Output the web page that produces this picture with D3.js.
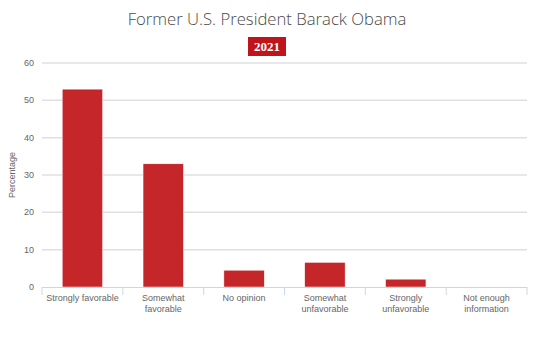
<!DOCTYPE html>
<html><head><meta charset="utf-8">
<script src="https://cdn.jsdelivr.net/npm/d3@7"></script>
<style>body{margin:0;background:#fff;}svg{display:block;font-family:"Liberation Sans",Arial,sans-serif;}</style>
</head><body>
<svg id="c" width="558" height="349"></svg>
<script>
const categories = [["Strongly favorable"],["Somewhat","favorable"],["No opinion"],["Somewhat","unfavorable"],["Strongly","unfavorable"],["Not enough","information"]];
const values = [53, 33, 4.5, 6.6, 2.1, 0];
const yTicks = [0,10,20,30,40,50,60];
const title = "Former U.S. President Barack Obama";
const badge = "2021";

const svg = d3.select("#c");
const m = {l:42, r:31, t:63, b:62};
const W = 558, H = 349;
const x = d3.scaleBand().domain(d3.range(categories.length)).range([m.l, W-m.r]).paddingInner(0.5).paddingOuter(0.25);
const y = d3.scaleLinear().domain([0,60]).range([H-m.b, m.t]);

svg.append("text").attr("x",267).attr("y",25).attr("text-anchor","middle")
  .attr("font-family","'Open Sans',sans-serif").attr("font-weight",300).attr("font-size",16.7).attr("fill","#4a4a4a").text(title);
svg.append("rect").attr("x",248).attr("y",37).attr("width",38).attr("height",19).attr("fill","#c0141b");
svg.append("text").attr("x",267).attr("y",51).attr("text-anchor","middle").attr("font-family","'Liberation Serif',serif")
  .attr("font-weight","bold").attr("font-size",13).attr("fill","#fff").text(badge);

// grid
svg.append("g").selectAll("line").data(yTicks.filter(d=>d>0)).join("line")
  .attr("x1",m.l).attr("x2",W-m.r).attr("y1",d=>y(d)).attr("y2",d=>y(d)).attr("stroke","#e0e0e0").attr("stroke-width",1.5);
svg.append("g").selectAll("text").data(yTicks).join("text")
  .attr("x",m.l-8).attr("y",d=>y(d)+3).attr("text-anchor","end").attr("font-size",9).attr("fill","#666").text(d=>d);

// bars
svg.append("g").selectAll("rect").data(values).join("rect")
  .attr("x",(d,i)=>x(i)).attr("width",x.bandwidth()).attr("y",d=>y(d)).attr("height",d=>y(0)-y(d))
  .attr("fill","#c4262a").attr("stroke","#fff").attr("stroke-width",0.5);

// x axis
const step = (W-m.r-m.l)/categories.length;
const ax = svg.append("g");
ax.append("line").attr("x1",m.l).attr("x2",W-m.r).attr("y1",y(0)+0.5).attr("y2",y(0)+0.5).attr("stroke","#ccd6eb");
ax.selectAll(".tk").data(d3.range(categories.length+1)).join("line")
  .attr("x1",i=>m.l+i*step).attr("x2",i=>m.l+i*step).attr("y1",y(0)).attr("y2",y(0)+8).attr("stroke","#ccd6eb");
categories.forEach((lines,i)=>{
  const t = ax.append("text").attr("x",x(i)+x.bandwidth()/2).attr("y",y(0)+14).attr("text-anchor","middle").attr("font-size",9).attr("fill","#666");
  lines.forEach((s,j)=>t.append("tspan").attr("x",x(i)+x.bandwidth()/2).attr("dy",j?11:0).text(s));
});

svg.append("text").attr("transform","translate(15,175) rotate(-90)").attr("text-anchor","middle").attr("font-size",9).attr("fill","#666").text("Percentage");
</script>
</body></html>
